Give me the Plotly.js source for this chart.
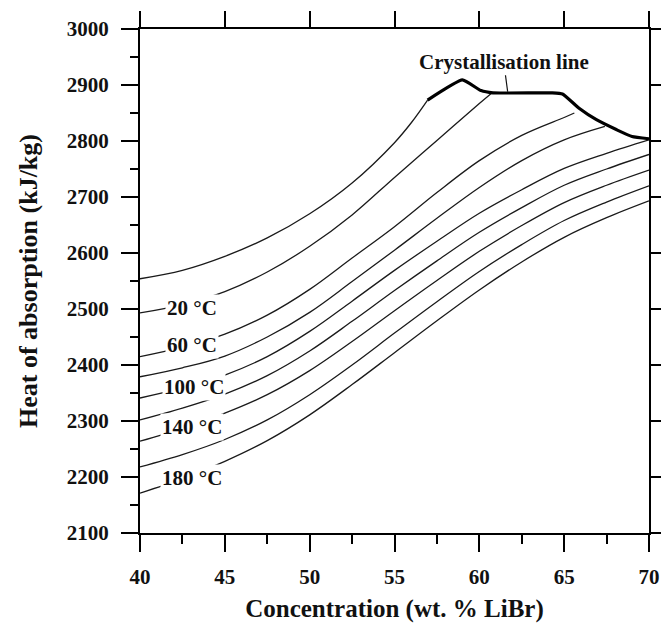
<!DOCTYPE html>
<html><head><meta charset="utf-8">
<script src="https://cdn.plot.ly/plotly-3.0.1.min.js"></script>
<style>html,body{margin:0;padding:0;background:#fff}</style>
</head><body><div id="chart" style="width:661px;height:623px"></div>
<script>
// ---- data ----
const concUpper = [40,42.5,45,47.5,50,52.5,55,56,56.95];
const heatUpper = [2554,2569,2594,2627,2670,2725,2797,2833,2873];
const conc20 = [40,42.5,45,47.5,50,52.5,55,57.5,60,60.7];
const heat20 = [2493,2508,2531,2566,2612,2668,2735,2801,2867,2885];
const conc60 = [40,42.5,45,47.5,50,52.5,55,57.5,60,62.5,65,65.6];
const heat60 = [2415,2432,2455,2489,2535,2591,2647,2708,2765,2810,2842,2850];
const conc80 = [40,42.5,45,47.5,50,52.5,55,57.5,60,62.5,65,67.4];
const heat80 = [2379,2395,2416,2450,2494,2549,2605,2662,2717,2765,2802,2826];
const concFull = [40,42.5,45,47.5,50,52.5,55,57.5,60,62.5,65,67.5,70];
const heat100 = [2341,2359,2382,2415,2460,2514,2569,2621,2671,2713,2751,2778,2802];
const heat120 = [2302,2323,2348,2381,2425,2478,2533,2586,2637,2681,2721,2750,2776];
const heat140 = [2264,2287,2314,2347,2390,2442,2497,2551,2603,2649,2690,2721,2748];
const heat160 = [2218,2240,2267,2302,2347,2400,2457,2513,2567,2615,2658,2691,2720];
const heat180 = [2171,2197,2228,2265,2311,2365,2422,2479,2534,2584,2628,2663,2693];
const crystConc = [56.95,59.0,60.1,60.8,64.3,64.9,65.9,66.9,68.1,69.0,70];
const crystHeat = [2873,2909,2890,2886,2886,2884,2858,2838,2820,2808,2804];
const tempLabels = ['20 °C','60 °C','100 °C','140 °C','180 °C'];
const xTicks = [40,45,50,55,60,65,70];
const yTicks = [2100,2200,2300,2400,2500,2600,2700,2800,2900,3000];

const FONT = 'Liberation Serif, Times New Roman, serif';
const series = [
  ['upper', concUpper, heatUpper],
  ['20 °C', conc20, heat20],
  ['60 °C', conc60, heat60],
  ['80 °C', conc80, heat80],
  ['100 °C', concFull, heat100],
  ['120 °C', concFull, heat120],
  ['140 °C', concFull, heat140],
  ['160 °C', concFull, heat160],
  ['180 °C', concFull, heat180]
];
const traces = series.map(s => ({
  type:'scatter', mode:'lines', name:s[0], x:s[1], y:s[2],
  line:{color:'#1a1a1a', width:1.3, shape:'spline', smoothing:1},
  hoverinfo:'skip'
}));
traces.push({type:'scatter', mode:'lines', name:'Crystallisation line',
  x:crystConc, y:crystHeat, line:{color:'#000', width:3.2, shape:'spline', smoothing:0.4}, hoverinfo:'skip'});
// empty traces so that the mirrored top / right tick axes are drawn
traces.push({type:'scatter', mode:'lines', x:[], y:[], xaxis:'x2', yaxis:'y', hoverinfo:'skip', showlegend:false});
traces.push({type:'scatter', mode:'lines', x:[], y:[], xaxis:'x', yaxis:'y2', hoverinfo:'skip', showlegend:false});

const labelPos = [[43.05,2502],[43.05,2436],[43.17,2361],[43.05,2289],[43.05,2198]];
const annotations = tempLabels.map((t,i) => ({
  x:labelPos[i][0], y:labelPos[i][1], xref:'x', yref:'y', text:t, showarrow:false,
  font:{family:FONT, size:21, color:'#111', weight:'bold'}, bgcolor:'#fff', borderpad:1
}));
annotations.push({x:61.67, y:2888, xref:'x', yref:'y', text:'Crystallisation line',
  showarrow:true, arrowhead:0, arrowwidth:1.2, arrowcolor:'#111', ax:-4, ay:-30, standoff:0,
  font:{family:FONT, size:21, color:'#111', weight:'bold'}});

const tickFont = {family:FONT, size:21, color:'#111', weight:'bold'};
const layout = {
  width:661, height:623, showlegend:false,
  paper_bgcolor:'#fff', plot_bgcolor:'#fff',
  margin:{l:140, r:12, t:29, b:90},
  xaxis:{range:[40,70], tickvals:xTicks, ticks:'outside', ticklen:17, tickwidth:2, tickcolor:'#000',
    minor:{dtick:2.5, tick0:40, ticks:'outside', ticklen:9, tickwidth:2, tickcolor:'#000'},
    showline:true, linewidth:2, linecolor:'#000', mirror:true, showgrid:false, zeroline:false,
    tickfont:tickFont, ticklabelstandoff:7,
    title:{text:'Concentration (wt. % LiBr)', font:{family:FONT, size:25, color:'#111', weight:'bold'}, standoff:11}},
  yaxis:{range:[2100,3000], tickvals:yTicks, ticks:'outside', ticklen:17, tickwidth:2, tickcolor:'#000',
    minor:{dtick:50, tick0:2100, ticks:'outside', ticklen:8, tickwidth:2, tickcolor:'#000'},
    showline:true, linewidth:2, linecolor:'#000', mirror:true, showgrid:false, zeroline:false,
    tickfont:tickFont, ticklabelstandoff:8,
    title:{text:'Heat of absorption (kJ/kg)', font:{family:FONT, size:26, color:'#111', weight:'bold'}, standoff:22}},
  xaxis2:{overlaying:'x', side:'top', anchor:'y', range:[40,70], tickvals:xTicks, ticks:'outside', ticklen:17,
    tickwidth:2, tickcolor:'#000', showticklabels:false, showgrid:false, zeroline:false, showline:false},
  yaxis2:{overlaying:'y', side:'right', anchor:'x', range:[2100,3000], tickvals:yTicks, ticks:'outside', ticklen:17,
    tickwidth:2, tickcolor:'#000', showticklabels:false, showgrid:false, zeroline:false, showline:false},
  annotations:annotations
};
Plotly.newPlot('chart', traces, layout, {displayModeBar:false, staticPlot:true});
</script></body></html>
